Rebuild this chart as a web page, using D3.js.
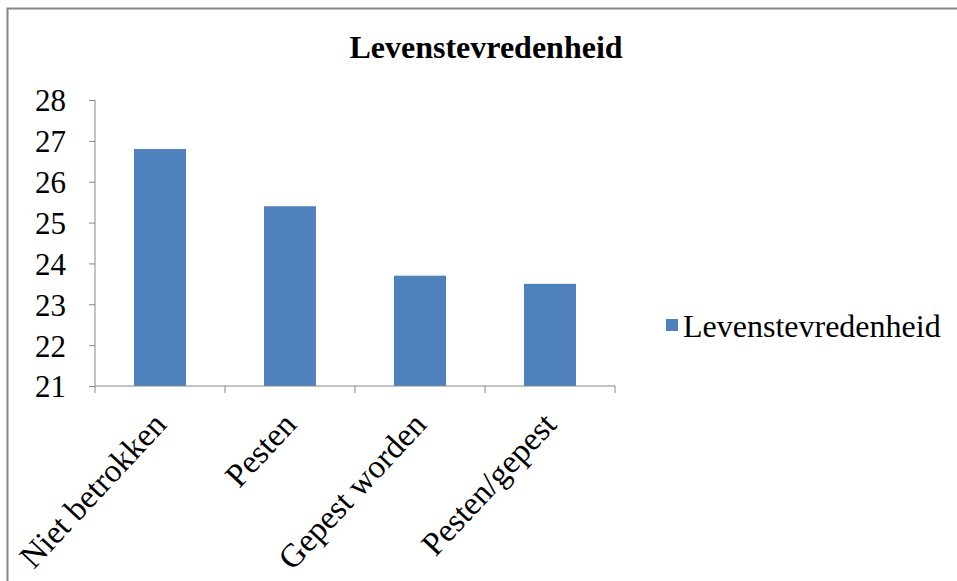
<!DOCTYPE html>
<html>
<head>
<meta charset="utf-8">
<script src="https://cdn.jsdelivr.net/npm/d3@7"></script>
<style>
body{margin:0;background:#fff;}
svg text{font-family:"Liberation Serif","Times New Roman",serif;}
</style>
</head>
<body>
<div id="chart"></div>
<script>
var categories=["Niet betrokken","Pesten","Gepest worden","Pesten/gepest"];
var values=[26.8,25.4,23.7,23.5];
var yTicks=[21,22,23,24,25,26,27,28];
var seriesName="Levenstevredenheid";

var width=957,
	height=581,
	plotLeft=95,
	plotRight=615,
	plotTop=100,
	plotBottom=386;

var svg=d3.select("#chart").append("svg")
	.attr("width",width)
	.attr("height",height);

// frame (only top and left visible in the original)
svg.append("path")
	.attr("d","M7.5,"+height+"V8.5H"+width)
	.attr("fill","none")
	.attr("stroke","#868686")
	.attr("stroke-width",2);

var x=d3.scaleBand().domain(categories).range([plotLeft,plotRight]).paddingInner(0.6).paddingOuter(0.3);
var y=d3.scaleLinear().domain([21,28]).range([plotBottom,plotTop]);

svg.append("text")
	.attr("x",486)
	.attr("y",58)
	.attr("text-anchor","middle")
	.attr("font-size","32px")
	.attr("font-weight","bold")
	.text(seriesName);

svg.selectAll(".bar").data(values).enter().append("rect")
	.attr("class","bar")
	.attr("x",function(d,i){return x(categories[i]);})
	.attr("width",x.bandwidth())
	.attr("y",function(d){return y(d);})
	.attr("height",function(d){return y(21)-y(d);})
	.attr("fill","#4f81bd");

var yAxis=svg.append("g")
	.attr("transform","translate("+plotLeft+",0)")
	.call(d3.axisLeft(y).tickValues(yTicks).tickSize(6).tickPadding(28).tickFormat(d3.format("d")));
yAxis.select(".domain").attr("stroke","#868686").attr("d","M0,"+plotTop+"V"+plotBottom);
yAxis.selectAll(".tick line").attr("stroke","#868686");
yAxis.selectAll(".tick text").attr("font-size","31px").attr("fill","#000")
	.attr("font-family","'Liberation Serif',serif").attr("text-anchor","start")
	.attr("x",-60).attr("dy","0.35em");

// x axis line with boundary ticks
var bounds=d3.range(categories.length+1).map(function(i){return plotLeft+i*(plotRight-plotLeft)/categories.length;});
svg.append("line")
	.attr("x1",plotLeft).attr("x2",plotRight)
	.attr("y1",plotBottom).attr("y2",plotBottom)
	.attr("stroke","#868686");
svg.selectAll(".xtick").data(bounds).enter().append("line")
	.attr("x1",function(d){return d;}).attr("x2",function(d){return d;})
	.attr("y1",plotBottom).attr("y2",plotBottom+7)
	.attr("stroke","#868686");

svg.selectAll(".xlabel").data(categories).enter().append("text")
	.attr("text-anchor","end")
	.attr("font-size","33px")
	.attr("transform",function(d){
		var cx=x(d)+x.bandwidth()/2+8;
		return "translate("+cx+","+(plotBottom+40)+") rotate(-47)";
	})
	.text(function(d){return d;});

// legend
var legend=svg.append("g").attr("transform","translate(666,319)");
legend.append("rect").attr("width",12).attr("height",12).attr("fill","#4f81bd");
legend.append("text").attr("x",17).attr("y",18).attr("font-size","32px").text(seriesName);
</script>
</body>
</html>
